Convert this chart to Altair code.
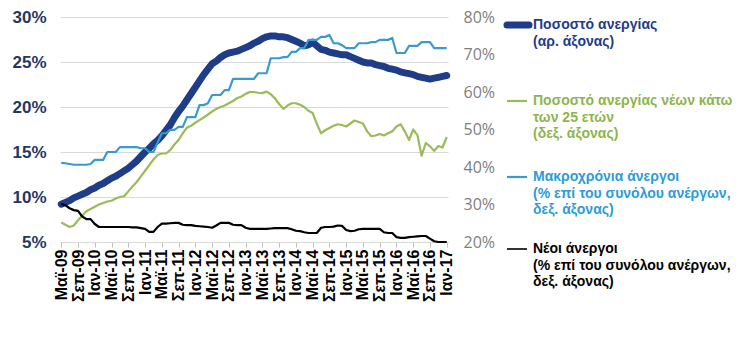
import altair as alt
import pandas as pd

GR_MONTHS = ["Ιαν", "Φεβ", "Μαρ", "Απρ", "Μαϊ", "Ιουν", "Ιουλ", "Αυγ", "Σεπ", "Οκτ", "Νοε", "Δεκ"]
START_YEAR, START_MONTH, N_MONTHS = 2009, 4, 93  # May 2009 .. Jan 2017
months = [
    f"{GR_MONTHS[(START_MONTH + i) % 12]}-{((START_YEAR * 12 + START_MONTH + i) // 12) % 100:02d}"
    for i in range(N_MONTHS)
]
tick_labels = months[::4]

# Ποσοστό ανεργίας (left axis, %)
unemp = [
    9.2, 9.4, 9.6, 9.9, 10.1, 10.3, 10.5, 10.8, 11.0, 11.3, 11.5, 11.8,
    12.1, 12.3, 12.6, 12.9, 13.2, 13.6, 14.0, 14.5, 15.0, 15.4, 15.9, 16.3,
    16.8, 17.4, 18.0, 18.8, 19.5, 20.1, 20.8, 21.5, 22.2, 22.9, 23.6, 24.2,
    24.8, 25.1, 25.5, 25.8, 26.0, 26.1, 26.2, 26.4, 26.6, 26.8, 27.1, 27.3,
    27.6, 27.8, 27.9, 27.9, 27.8, 27.8, 27.7, 27.5, 27.3, 27.1, 26.8, 26.9,
    27.2, 26.8, 26.4, 26.3, 26.1, 26.0, 25.9, 25.8, 25.8, 25.6, 25.4, 25.2,
    25.0, 24.9, 24.9, 24.7, 24.6, 24.5, 24.3, 24.2, 24.1, 23.9, 23.8, 23.7,
    23.6, 23.4, 23.3, 23.2, 23.1, 23.2, 23.3, 23.4, 23.5,
]
# Ποσοστό ανεργίας νέων κάτω των 25 ετών (right axis, %)
youth = [
    25.2, 24.6, 24.0, 24.4, 25.8, 27.0, 28.2, 28.8, 29.4, 30.0, 30.4, 30.8,
    31.0, 31.6, 32.0, 32.2, 33.5, 34.8, 36.0, 37.5, 39.0, 40.5, 42.0, 43.2,
    43.6, 43.6, 44.5, 46.0, 47.2, 49.0, 50.5, 51.0, 51.8, 52.5, 53.2, 54.0,
    54.8, 55.5, 56.0, 56.4, 57.0, 57.6, 58.4, 58.8, 59.5, 60.0, 60.0, 59.8,
    59.7, 60.1, 59.4, 58.3, 56.8, 55.5, 56.4, 57.0, 57.0, 56.6, 56.0, 55.0,
    54.4, 51.5, 49.0, 49.8, 50.4, 51.0, 51.4, 51.2, 50.8, 51.6, 52.4, 52.0,
    51.6, 49.5, 48.2, 48.4, 48.8, 48.4, 49.0, 49.5, 50.8, 51.4, 49.5, 47.2,
    50.0, 48.5, 43.0, 46.4, 45.5, 44.3, 45.6, 45.2, 48.0,
]
# Μακροχρόνια άνεργοι (right axis, % of unemployed)
longterm = [
    41.1, 41.0, 40.8, 40.6, 40.6, 40.6, 40.6, 40.8, 41.9, 41.9, 41.9, 44.0,
    44.0, 44.0, 45.3, 45.3, 45.3, 45.3, 45.3, 45.0, 45.0, 44.0, 44.0, 46.5,
    49.0, 49.0, 49.9, 49.9, 50.7, 50.7, 53.3, 53.3, 53.3, 56.5, 56.5, 57.0,
    59.2, 59.2, 59.2, 60.5, 60.5, 63.5, 63.5, 63.5, 63.5, 63.5, 63.5, 65.0,
    65.0, 65.0, 69.0, 69.0, 69.0, 69.3, 69.3, 70.7, 70.7, 71.7, 71.7, 73.9,
    73.9, 73.9, 74.7, 74.7, 75.2, 73.0, 73.0, 72.5, 71.7, 71.7, 71.7, 73.0,
    73.0, 73.0, 73.3, 73.3, 73.9, 73.9, 73.9, 74.4, 70.4, 70.4, 70.4, 72.3,
    72.3, 72.3, 73.3, 73.3, 73.3, 71.7, 71.7, 71.7, 71.7,
]
# Νέοι άνεργοι (right axis, % of unemployed)
newunemp = [
    30.1, 29.8, 29.0, 28.5, 28.3, 26.8, 26.1, 26.1, 24.8, 24.0, 24.0, 24.0,
    24.0, 24.0, 24.0, 24.0, 24.0, 23.9, 23.9, 23.7, 23.5, 22.7, 22.7, 24.0,
    24.9, 24.9, 25.0, 25.1, 25.1, 24.6, 24.5, 24.5, 24.3, 24.2, 24.1, 24.0,
    23.8, 24.4, 25.1, 25.1, 25.1, 24.6, 24.5, 24.5, 23.8, 23.5, 23.5, 23.5,
    23.5, 23.5, 23.6, 23.7, 23.7, 23.7, 23.7, 23.4, 23.0, 22.9, 22.6, 22.4,
    22.4, 22.4, 23.8, 24.0, 24.0, 24.1, 24.4, 24.3, 23.2, 22.9, 23.0, 23.4,
    23.5, 23.5, 23.5, 23.5, 23.5, 22.6, 22.4, 22.4, 21.3, 21.1, 21.1, 21.3,
    21.4, 21.5, 21.6, 21.6, 20.9, 20.2, 20.0, 20.0, 20.0,
]

series_names = ["youth", "longterm", "newunemp"]
series_colors = ["#9BBB59", "#3A9AD0", "#000000"]
series_widths = [2.2, 2.2, 1.6]
main_color = "#1F3C88"

legend_texts = [
    "Ποσοστό ανεργίας\n(αρ. άξονας)",
    "Ποσοστό ανεργίας νέων κάτω\nτων 25 ετών\n(δεξ. άξονας)",
    "Μακροχρόνια άνεργοι\n(% επί του συνόλου ανέργων,\nδεξ. άξονας)",
    "Νέοι άνεργοι\n(% επί του συνόλου ανέργων,\nδεξ. άξονας)",
]
legend_text_colors = ["#1F3C88", "#8DB54E", "#2E9CD6", "#000000"]
legend_line_colors = [main_color] + series_colors
legend_line_widths = [7, 2.2, 2.2, 1.6]

df = pd.DataFrame({"month": months, "unemp": unemp, "youth": youth,
                   "longterm": longterm, "newunemp": newunemp})
df_long = df.melt(id_vars=["month"], value_vars=series_names,
                  var_name="series", value_name="value")

W, H = 388, 225
FONT = "Liberation Sans"

x_enc = alt.X(
    "month:O", sort=months,
    scale=alt.Scale(type="point", padding=0.3),
    axis=alt.Axis(values=tick_labels, labelAngle=270, labelFont=FONT,
                  labelFontWeight="bold", labelFontSize=16, labelColor="black",
                  tickColor="#bfbfbf", tickSize=5, domainColor="#d9d9d9",
                  labelPadding=2, title=None, grid=False),
)

left = alt.Chart(df).mark_line(
    color=main_color, strokeWidth=7, strokeCap="round", strokeJoin="round"
).encode(
    x=x_enc,
    y=alt.Y("unemp:Q", scale=alt.Scale(domain=[5, 30], nice=False),
            axis=alt.Axis(orient="left", values=[5, 10, 15, 20, 25, 30],
                          labelExpr="datum.value + '%'", grid=True,
                          gridColor="#d9d9d9", domain=False, ticks=False,
                          labelFont=FONT, labelFontSize=17, labelFontWeight="bold",
                          labelColor="#1F3864", labelPadding=14, title=None)),
)

right = alt.Chart(df_long).mark_line(strokeJoin="round").encode(
    x=x_enc,
    y=alt.Y("value:Q", scale=alt.Scale(domain=[20, 80], nice=False),
            axis=alt.Axis(orient="right", values=[20, 30, 40, 50, 60, 70, 80],
                          labelExpr="datum.value + '%'", grid=False,
                          domain=False, ticks=False, labelFont="Open Sans",
                          labelFontSize=16, labelColor="#808080",
                          labelPadding=15, title=None)),
    color=alt.Color("series:N", scale=alt.Scale(domain=series_names, range=series_colors),
                    legend=None),
    strokeWidth=alt.StrokeWidth("series:N",
                                scale=alt.Scale(domain=series_names, range=series_widths),
                                legend=None),
    detail="series:N",
)

one_row = pd.DataFrame({"k": [0]})
legend_layers = []
for i, (txt, tcol, lcol, lw) in enumerate(zip(legend_texts, legend_text_colors,
                                               legend_line_colors, legend_line_widths)):
    y0 = 8 + i * 76 - (4 if i == 3 else 0)
    legend_layers.append(
        alt.Chart(one_row).mark_rule(color=lcol, strokeWidth=lw,
                                     strokeCap="round" if i == 0 else "butt").encode(
            x=alt.value(447), x2=alt.value(469 if i == 0 else 467),
            y=alt.value(y0))
    )
    legend_layers.append(
        alt.Chart(one_row).mark_text(
            align="left", baseline="middle", font=FONT, fontWeight="bold",
            fontSize=14, color=tcol, lineBreak="\n", lineHeight=16.5
        ).encode(x=alt.value(473), y=alt.value(y0), text=alt.value(txt))
    )

chart = alt.layer(left, right, *legend_layers).resolve_scale(
    y="independent", color="independent", strokeWidth="independent"
).properties(
    width=W, height=H,
    padding={"left": 60, "top": 17, "right": 748 - 60 - W, "bottom": 354 - 17 - H},
    autosize=alt.AutoSizeParams(type="none"),
    background="white",
).configure_view(stroke=None)

chart.save("out.html", embed_options={"renderer": "svg", "actions": False})
